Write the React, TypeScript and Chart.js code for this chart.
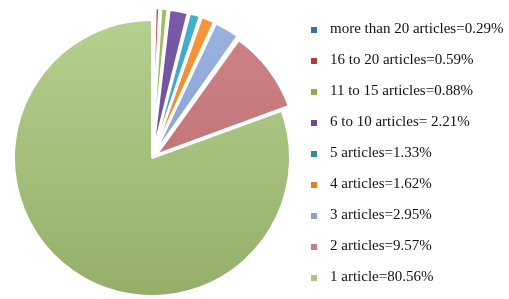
import React, { useEffect, useRef } from "react";
import { Chart, registerables } from "chart.js";

Chart.register(...registerables);

const categories = [
  "more than 20 articles",
  "16 to 20 articles",
  "11 to 15 articles",
  "6 to 10 articles",
  "5 articles",
  "4 articles",
  "3 articles",
  "2 articles",
  "1 article",
];
const shares = [0.29, 0.59, 0.88, 2.21, 1.33, 1.62, 2.95, 9.57, 80.56];
const legendLabels = [
  "more than 20 articles=0.29%",
  "16 to 20 articles=0.59%",
  "11 to 15 articles=0.88%",
  "6 to 10 articles= 2.21%",
  "5 articles=1.33%",
  "4 articles=1.62%",
  "3 articles=2.95%",
  "2 articles=9.57%",
  "1 article=80.56%",
];
const sliceTop = ["#5a8bc6", "#c8403f", "#9cc25c", "#7a5aa8", "#43b0cc", "#f7963a", "#9ab3e0", "#d08487", "#b5d08f"];
const sliceBottom = ["#3c6aa6", "#a83432", "#7fa344", "#5e438a", "#2f93ad", "#e07a20", "#7d97c8", "#b4686c", "#94ae6a"];
const legendColors = ["#3d6fae", "#b8393a", "#8ab04a", "#6b4c93", "#2e8ba0", "#e0802c", "#8aa2cf", "#c27f84", "#a8c48a"];
const explode = [24, 24, 24, 24, 24, 24, 24, 24, 0];

const legendPlugin = {
  id: "sideLegend",
  afterDraw(chart: any) {
    const ctx = chart.ctx;
    ctx.save();
    ctx.font = '15px "Liberation Serif"';
    ctx.textBaseline = "middle";
    legendLabels.forEach((label, i) => {
      const y = 29 + i * 31;
      ctx.fillStyle = legendColors[i];
      ctx.fillRect(311, y - 2, 6, 6);
      ctx.fillStyle = "#111111";
      ctx.fillText(label, 330, y);
    });
    ctx.restore();
  },
};

export default function App() {
  const ref = useRef<HTMLCanvasElement>(null);
  useEffect(() => {
    const canvas = ref.current!;
    const chart = new Chart(canvas, {
      type: "pie",
      data: {
        labels: categories,
        datasets: [
          {
            data: shares,
            backgroundColor: (c: any) => {
              const area = c.chart.chartArea;
              const i = c.dataIndex;
              if (!area) return sliceTop[i];
              const g = c.chart.ctx.createLinearGradient(0, area.top, 0, area.bottom);
              g.addColorStop(0, sliceTop[i]);
              g.addColorStop(1, sliceBottom[i]);
              return g;
            },
            borderColor: "#ffffff",
            borderWidth: 2,
            offset: explode,
          },
        ],
      },
      options: {
        animation: false,
        responsive: false,
        radius: 138,
        layout: { padding: { left: 0, right: 205, top: 17, bottom: 0 } },
        plugins: { legend: { display: false }, tooltip: { enabled: false } },
      },
      plugins: [legendPlugin],
    });
    return () => chart.destroy();
  }, []);
  return (
    <div style={{ position: "fixed", left: 0, top: 0, width: 509, height: 299, background: "#fff" }}>
      <canvas ref={ref} width={509} height={299} style={{ width: 509, height: 299 }} />
    </div>
  );
}
